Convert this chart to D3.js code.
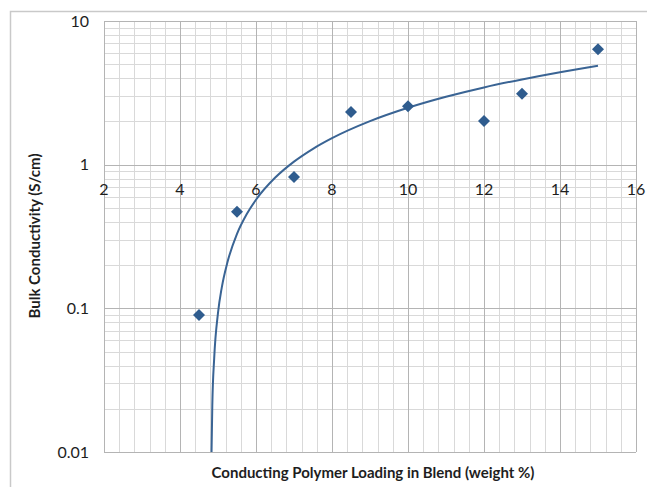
<!DOCTYPE html>
<html>
<head>
<meta charset="utf-8">
<script src="https://cdn.jsdelivr.net/npm/d3@7/dist/d3.min.js"></script>
<style>
  body { margin: 0; background: #fff; }
  text { font-family: Lato, "Open Sans", sans-serif; fill: #1e1e1e; }
</style>
</head>
<body>
<svg id="chart" width="647" height="487"></svg>
<script>
// measured points
var loading = [4.5, 5.5, 7, 8.5, 10, 12, 13, 15];
var conductivity = [0.09, 0.47, 0.82, 2.33, 2.55, 2.01, 3.12, 6.35];

// trend line
var trendX = [4.83, 4.85, 4.9, 5.0, 5.1, 5.25, 5.5, 5.75, 6, 6.5, 7, 7.5, 8, 9, 10, 11, 12, 13, 14, 15];
var trendY = [0.01, 0.021, 0.045, 0.093, 0.14, 0.21, 0.33, 0.45, 0.57, 0.81, 1.05, 1.29, 1.53, 2.01, 2.49, 2.97, 3.45, 3.92, 4.40, 4.88];

var xTicks = [2, 4, 6, 8, 10, 12, 14, 16];
var yTicks = [0.01, 0.1, 1, 10];

var svg = d3.select("#chart");
var pLeft = 104, pRight = 636, pTop = 21, pBottom = 452;

var x = d3.scaleLinear().domain([2, 16]).range([pLeft, pRight]);
var y = d3.scaleLog().domain([0.01, 10]).range([pBottom, pTop]);

// outer frame
svg.append("path")
    .attr("d", "M10.5,487 V11.5 H647")
    .attr("fill", "none")
    .attr("stroke", "#c9c9c9")
    .attr("stroke-width", 1.5);

// grid - minor first
var minorX = d3.range(2, 16.001, 0.4).filter(function(v) { return Math.abs(v / 2 - Math.round(v / 2)) > 0.01; });
var minorY = [];
[0.01, 0.1, 1].forEach(function(d) {
    for (var k = 2; k <= 9; k++) minorY.push(d * k);
});

var grid = svg.append("g");
grid.selectAll(".vx").data(minorX).enter().append("line")
    .attr("x1", function(d) { return Math.round(x(d)) + 0.5; })
    .attr("x2", function(d) { return Math.round(x(d)) + 0.5; })
    .attr("y1", pTop).attr("y2", pBottom)
    .attr("stroke", "#d9d9d9");
grid.selectAll(".hy").data(minorY).enter().append("line")
    .attr("y1", function(d) { return Math.round(y(d)) + 0.5; })
    .attr("y2", function(d) { return Math.round(y(d)) + 0.5; })
    .attr("x1", pLeft).attr("x2", pRight)
    .attr("stroke", "#d9d9d9");
grid.selectAll(".mx").data(xTicks).enter().append("line")
    .attr("x1", function(d) { return Math.round(x(d)) + 0.5; })
    .attr("x2", function(d) { return Math.round(x(d)) + 0.5; })
    .attr("y1", pTop).attr("y2", pBottom)
    .attr("stroke", "#b4b4b4");
grid.selectAll(".my").data(yTicks).enter().append("line")
    .attr("y1", function(d) { return Math.round(y(d)) + 0.5; })
    .attr("y2", function(d) { return Math.round(y(d)) + 0.5; })
    .attr("x1", pLeft).attr("x2", pRight)
    .attr("stroke", "#b4b4b4");

// y axis labels
svg.selectAll(".ylab").data(yTicks).enter().append("text")
    .attr("x", 89)
    .attr("y", function(d) { return y(d); })
    .attr("dy", "0.36em")
    .attr("text-anchor", "end")
    .attr("font-size", 16)
    .text(function(d) { return d; });

// x axis labels sit across the y = 1 line
svg.selectAll(".xlab").data(xTicks).enter().append("text")
    .attr("x", function(d) { return x(d); })
    .attr("y", y(1) + 30)
    .attr("text-anchor", "middle")
    .attr("font-size", 16)
    .text(function(d) { return d; });

// trend line
var trend = trendX.map(function(v, i) { return [v, trendY[i]]; });
svg.append("path")
    .datum(trend)
    .attr("fill", "none")
    .attr("stroke", "#3a6494")
    .attr("stroke-width", 2)
    .attr("d", d3.line()
        .x(function(d) { return x(d[0]); })
        .y(function(d) { return y(d[1]); })
        .curve(d3.curveMonotoneX));

// data markers (diamonds)
svg.selectAll(".pt").data(loading).enter().append("path")
    .attr("d", d3.symbol().type(d3.symbolSquare).size(72))
    .attr("transform", function(d, i) {
        return "translate(" + x(d) + "," + y(conductivity[i]) + ") rotate(45)";
    })
    .attr("fill", "#2f5c8e");

// axis titles
svg.append("text")
    .attr("x", 373)
    .attr("y", 478)
    .attr("text-anchor", "middle")
    .attr("font-size", 15)
    .attr("font-weight", "bold")
    .text("Conducting Polymer Loading in Blend (weight %)");

svg.append("text")
    .attr("transform", "translate(40,236) rotate(-90)")
    .attr("text-anchor", "middle")
    .attr("font-size", 15)
    .attr("font-weight", "bold")
    .text("Bulk Conductivity (S/cm)");
</script>
</body>
</html>
